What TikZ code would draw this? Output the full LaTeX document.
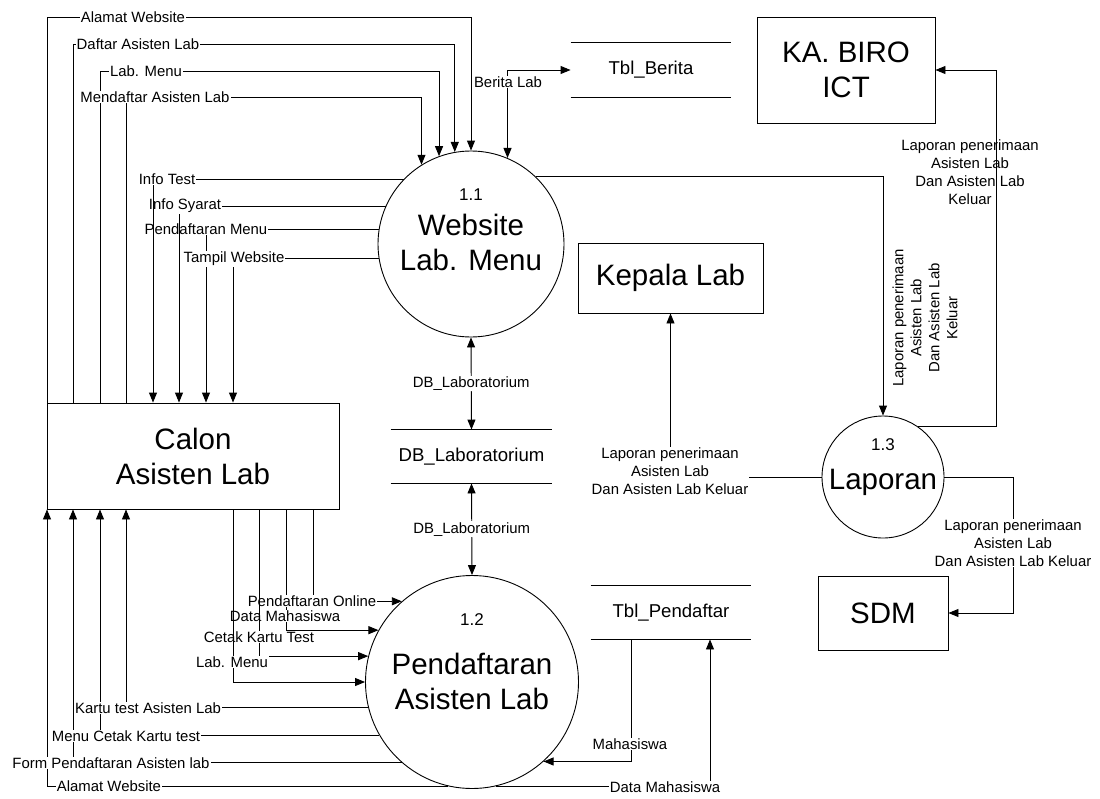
\documentclass[tikz,border=0pt]{standalone}
\usepackage{fontspec}
\setmainfont{Liberation Sans}
\usetikzlibrary{arrows.meta}

\newcommand{\bigf}{\fontsize{29.5}{35}\selectfont}
\newcommand{\numf}{\fontsize{17}{20}\selectfont}
\newcommand{\lblf}{\fontsize{14.9}{18}\selectfont}
\newcommand{\tblf}{\fontsize{18.6}{22}\selectfont}

\tikzset{
  proc/.style={circle,draw,inner sep=0pt,font=\bigf},
  ent/.style={rectangle,draw,inner sep=2pt,align=center,font=\bigf},
  store/.style={inner sep=0pt,minimum width=160pt,font=\tblf},
  lbl/.style={fill=white,inner sep=1pt,align=center,font=\lblf}
}

\begin{document}
\begin{tikzpicture}[x=1pt,y=-1pt,>={Triangle[length=10pt,width=8pt]}]
\path[use as bounding box,fill=white] (0,0) rectangle (1100,798);
\begin{scope}[line width=0.9pt]
% processes
\node[proc,minimum size=186pt] (W) at (471,244) {\raisebox{9.6pt}[0pt][0pt]{\begin{tabular}{@{}c@{}}{\numf 1.1}\\Website\\Lab. Menu\end{tabular}}};
\node[proc,minimum size=213pt] (P) at (472,682) {\raisebox{15.6pt}[0pt][0pt]{\begin{tabular}{@{}c@{}}{\numf 1.2}\\[14pt]Pendaftaran\\Asisten Lab\end{tabular}}};
\node[proc,minimum size=122pt] (R) at (883,477) {\raisebox{8.1pt}[0pt][0pt]{\begin{tabular}{@{}c@{}}{\numf 1.3}\\[4pt]Laporan\end{tabular}}};
% entities
\node[ent,minimum width=292pt,minimum height=106pt] (C) at (193,456) {Calon\\Asisten Lab};
\node[ent,minimum width=185pt,minimum height=70pt] (K) at (670.5,278) {Kepala Lab};
\node[ent,minimum width=178pt,minimum height=106pt] (B) at (846,70) {KA. BIRO\\ICT};
\node[ent,minimum width=130pt,minimum height=74pt] (S) at (883,613) {SDM};
% data stores
\node[store,minimum height=54pt] (TB) at (651,70) {Tbl\_Berita};
\node[store,minimum height=53pt,minimum width=161pt] (D) at (471.5,456.5) {DB\_Laboratorium};
\node[store,minimum height=53pt] (TP) at (671,612.5) {Tbl\_Pendaftar};
\foreach \n in {TB,D,TP}
  \draw (\n.north west) -- (\n.north east) (\n.south west) -- (\n.south east);

% Calon -> Website
\draw[->] (C.north -| 47,0) -- (47,17) -| (W.90) node[lbl] (c1) at (133,17) {Alamat Website};
\draw[->] (C.north -| 73,0) -- (73,44) -| (W.100) node[lbl] (c2) at (138,44) {Daftar Asisten Lab};
\draw[->] (C.north -| 100,0) -- (100,71) -| (W.110) node[lbl] (c3) at (146,71) {Lab. Menu};
\draw[->] (C.north -| 126,0) -- (126,97) -| (W.122) node[lbl] (c4) at (155,97) {Mendaftar Asisten Lab};

% Website -> Calon
\draw[->] (W.171) -| (C.north -| 206,0) node[lbl] (w3) at (206,229) {Pendaftaran Menu};
\draw[->] (W.189) -| (C.north -| 233,0) node[lbl] (w4) at (234,259) {Tampil Website};
\draw[->] (W.156) -| (C.north -| 179,0) node[lbl] (w2) at (185,206) {Info Syarat};
\draw[->] (W.136) -| (C.north -| 153,0) node[lbl] (w1) at (167,179) {Info Test};

% stores
\draw[<->] (W.south) -- node[lbl] (d1) {DB\_Laboratorium} (D.north);
\draw[<->] (D.south) -- node[lbl] (d2) {DB\_Laboratorium} (P.north);
\draw[<->] (W.67) |- (TB.west) node[lbl] (w5) at (508,82) {Berita Lab};

% Calon -> Pendaftaran
\draw[->] (C.south -| 286,0) |- (P.151) node[lbl] (p2) at (285,616) {Data Mahasiswa};
\draw[->] (C.south -| 313,0) |- (P.131) node[lbl] (p1) at (312,601) {Pendaftaran Online};
\draw[->] (C.south -| 259,0) |- (P.166) node[lbl] (p3) at (259,637) {Cetak Kartu Test};
\draw[->] (C.south -| 233,0) |- (P.west) node[lbl] (p4) at (232,662) {Lab. Menu};

% Pendaftaran -> Calon
\draw[->] (P.257) -| (C.south -| 47,0) node[lbl] (q4) at (109,786) {Alamat Website};
\draw[->] (P.229) -| (C.south -| 73,0) node[lbl] (q3) at (111,763) {Form Pendaftaran Asisten lab};
\draw[->] (P.210) -| (C.south -| 100,0) node[lbl] (q2) at (126,736) {Menu Cetak Kartu test};
\draw[->] (P.194) -| (C.south -| 126,0) node[lbl] (q1) at (148,708) {Kartu test Asisten Lab};

% Laporan
\draw[->] (W.46) -| (R.north) node[lbl,fill=none,rotate=90] (r1) at (925,318) {Laporan penerimaan\\Asisten Lab\\Dan Asisten Lab\\Keluar};
\draw[->] (R.55) -| (996,70) -- (B.east) node[lbl,fill=none] (r2) at (970,172) {Laporan penerimaan\\Asisten Lab\\Dan Asisten Lab\\Keluar};
\draw[->] (R.west) -| (K.south) node[lbl] (r3) at (670,471) {Laporan penerimaan\\Asisten Lab\\Dan Asisten Lab Keluar};
\draw[->] (R.east) -| (1013,613) -- (S.east) node[lbl] (r4) at (1013,543) {Laporan penerimaan\\Asisten Lab\\Dan Asisten Lab Keluar};

% Tbl_Pendaftar
\draw[->] (TP.south -| 631,0) |- (P.312) node[lbl] (t1) at (630,744) {Mahasiswa};
\draw[->] (P.283) -| (TP.south -| 710,0) node[lbl] (t2) at (665,787) {Data Mahasiswa};
\end{scope}
\end{tikzpicture}
\end{document}
